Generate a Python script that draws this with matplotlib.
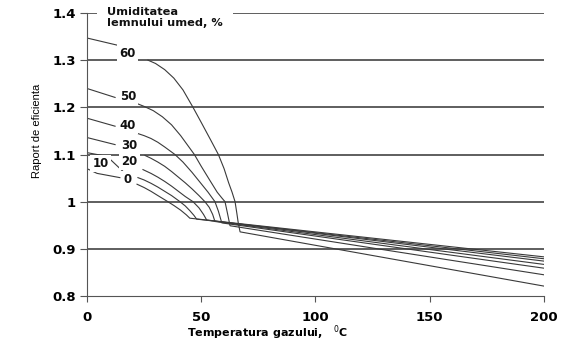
import matplotlib
matplotlib.use("Agg")
import matplotlib.pyplot as plt
import numpy as np

plt.rcParams['font.family'] = ['DejaVu Sans']

# umiditatea lemnului (%) -> etichete
umid = ['0', '10', '20', '30', '40', '50', '60']

# segmentul de la x=0 pana la eticheta
lead_t = {
    '0': [], '10': [0, 4.4, 14.4], '20': [0, 8.8, 15.8], '30': [0, 12.3],
    '40': [0, 12.3], '50': [0, 12.3], '60': [0, 13.1],
}
lead_r = {
    '0': [], '10': [1.070, 1.060, 1.051], '20': [1.104, 1.096, 1.064], '30': [1.136, 1.121],
    '40': [1.177, 1.160], '50': [1.240, 1.221], '60': [1.347, 1.332],
}

# curba dupa eticheta
main_t = {
    '0': [21.9, 25, 28, 31, 35.4, 38, 41, 43.5, 45, 200],
    '10': [22.3, 25, 28, 31, 34, 37, 40.7, 43, 45, 46.8, 48, 200],
    '20': [24.5, 28, 31, 34, 37, 40, 43, 46.4, 49, 51, 52.4, 200],
    '30': [25.4, 28, 31, 34, 37, 40, 43, 46, 49, 51.6, 53.5, 55, 56, 200],
    '40': [21.9, 25, 28, 31, 34, 38.5, 42, 46, 50, 53, 56, 57.5, 59, 200],
    '50': [21.4, 25, 29, 33, 37, 41, 44, 47, 50, 53.8, 57, 59, 60.4, 61.5, 62.6, 200],
    '60': [26.7, 30, 34, 38, 42, 46.4, 50, 54, 57.5, 60, 62, 63.5, 64.8, 65.6, 66.2, 67, 200],
}
main_r = {
    '0': [1.037, 1.030, 1.022, 1.013, 1.000, 0.992, 0.982, 0.972, 0.965, 0.883],
    '10': [1.051, 1.046, 1.039, 1.031, 1.022, 1.013, 1.000, 0.991, 0.981, 0.971, 0.963, 0.879],
    '20': [1.068, 1.060, 1.052, 1.043, 1.033, 1.022, 1.011, 1.000, 0.987, 0.973, 0.961, 0.874],
    '30': [1.098, 1.092, 1.084, 1.075, 1.064, 1.052, 1.040, 1.027, 1.013, 1.000, 0.988, 0.973, 0.958, 0.867],
    '40': [1.145, 1.140, 1.134, 1.126, 1.116, 1.100, 1.084, 1.062, 1.038, 1.020, 1.000, 0.980, 0.955, 0.859],
    '50': [1.209, 1.202, 1.193, 1.180, 1.163, 1.140, 1.120, 1.100, 1.075, 1.045, 1.020, 1.008, 1.000, 0.975, 0.949, 0.845],
    '60': [1.300, 1.293, 1.280, 1.262, 1.237, 1.200, 1.168, 1.132, 1.100, 1.070, 1.040, 1.020, 1.000, 0.975, 0.955, 0.936, 0.821],
}

# pozitia etichetelor
lab_t = {'0': 17.9, '10': 6.1, '20': 18.4, '30': 18.4, '40': 17.9, '50': 17.9, '60': 17.9}
lab_r = {'0': 1.047, '10': 1.081, '20': 1.085, '30': 1.119, '40': 1.162, '50': 1.223, '60': 1.315}

yticks = [0.8, 0.9, 1.0, 1.1, 1.2, 1.3, 1.4]
ytick_lab = ['0.8', '0.9', '1', '1.1', '1.2', '1.3', '1.4']
xticks = [0, 50, 100, 150, 200]

fig = plt.figure(figsize=(5.81, 3.44), dpi=100)
ax = fig.add_axes([0.1497, 0.1395, 0.7866, 0.8227])

for y in yticks[1:]:
    ax.axhline(y, color='#333333', lw=1.1, zorder=1)

for u in umid:
    ax.plot(lead_t[u], lead_r[u], color='#3a3a3a', lw=0.8, zorder=2)
    ax.plot(main_t[u], main_r[u], color='#3a3a3a', lw=0.8, zorder=2)
    ax.text(lab_t[u], lab_r[u], u, fontsize=8.5, fontweight='bold', ha='center', va='center',
            color='#111111', zorder=4,
            bbox=dict(boxstyle='square,pad=0.2', fc='white', ec='none'))

ax.text(8.75, 1.413, 'Umiditatea\nlemnului umed, %', fontsize=8.2, fontweight='bold', ha='left', va='top',
        color='#111111', linespacing=1.2, zorder=4,
        bbox=dict(boxstyle='square,pad=0.9', fc='white', ec='none'))

ax.set_xlim(0, 200)
ax.set_ylim(0.8, 1.4)
ax.set_xticks(xticks)
ax.set_yticks(yticks)
ax.set_yticklabels(ytick_lab)
for lab in ax.get_xticklabels() + ax.get_yticklabels():
    lab.set_fontweight('bold')
    lab.set_fontsize(9.5)
ax.tick_params(axis='y', direction='out', length=5, color='#555555', pad=3)
ax.tick_params(axis='x', direction='out', length=4, color='#555555', pad=7)

for s in ['top', 'right']:
    ax.spines[s].set_visible(False)
ax.spines['left'].set_color('#555555')
ax.spines['bottom'].set_color('#555555')

ax.set_xlabel(r'Temperatura gazului,   $^{0}\mathregular{C}$', fontsize=8, fontweight='bold')
ax.xaxis.set_label_coords(0.396, -0.098)
ax.set_ylabel('Raport de eficienta', fontsize=8, family=['Liberation Sans', 'DejaVu Sans'])
ax.yaxis.set_label_coords(-0.098, 0.583)

fig.savefig('out.png', dpi=100)
